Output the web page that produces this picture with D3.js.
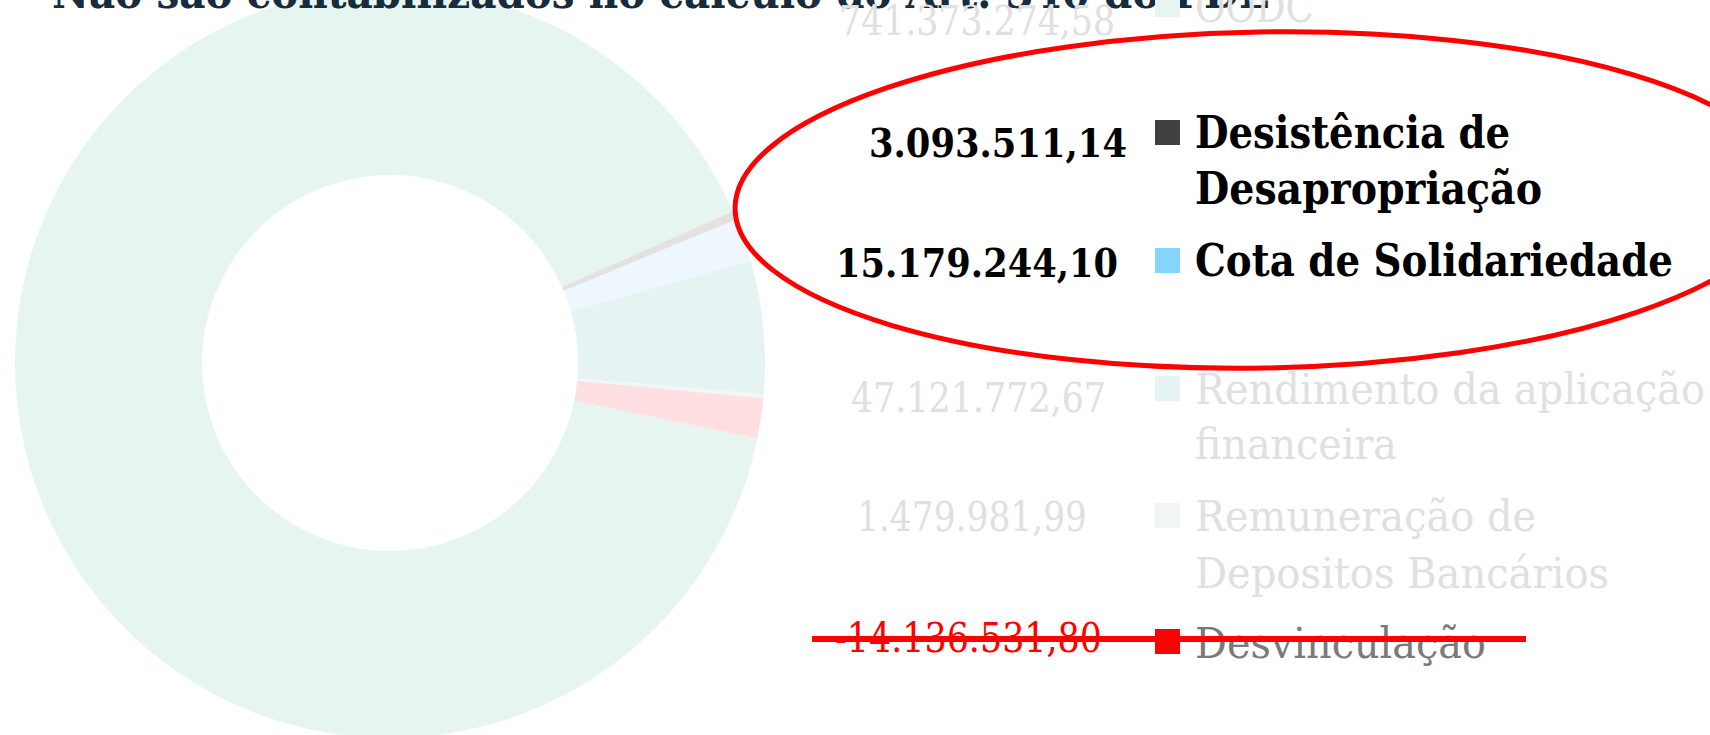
<!DOCTYPE html>
<html>
<head>
<meta charset="utf-8">
<script src="https://cdn.jsdelivr.net/npm/d3@7"></script>
<style>
  html, body { margin: 0; padding: 0; background: #fff; overflow: hidden; }
  svg { display: block; }
</style>
</head>
<body>
<div id="chart"></div>
<script>
// data
const categories = ["OODC", "Desistência de Desapropriação", "Cota de Solidariedade",
  "Rendimento da aplicação financeira", "Remuneração de Depositos Bancários", "Desvinculação"];
const values = [741373274.58, 3093511.14, 15179244.10, 47121772.67, 1479981.99, -14136531.80];
const labelLines = [
  ["OODC"],
  ["Desistência de", "Desapropriação"],
  ["Cota de Solidariedade"],
  ["Rendimento da aplicação", "financeira"],
  ["Remuneração de", "Depositos Bancários"],
  ["Desvinculação"]
];
const highlighted = [false, true, true, false, false, false];
const struck = [false, false, false, false, false, true];
const title = "Não são contabilizados no cálculo do Art. 340 do PDE";

// colours (faded slices, legend swatches)
const sliceColors = ["#e6f5ef", "#e3e1e1", "#eef7fd", "#e5f3f3", "#f1f6f6", "#ffdfe1"];
const swatchColors = ["#e6f5ef", "#404040", "#87d4fa", "#e5f3f3", "#f2f5f5", "#ff0000"];

const width = 1710, height = 735;
const cx = 390, cy = 363, outerR = 375, innerR = 188;

// layout of each legend row: number box, swatch, label baselines + widths
const rows = [
  { nx: 839, nw: 276, ny: 35,  sy: -8,  ly: [22],       lw: [119] },
  { nx: 869, nw: 258, ny: 157, sy: 120, ly: [148, 204], lw: [315, 347] },
  { nx: 836, nw: 282, ny: 277, sy: 248, ly: [276],      lw: [478] },
  { nx: 851, nw: 255, ny: 412, sy: 376, ly: [404, 459], lw: [510, 202] },
  { nx: 857, nw: 230, ny: 531, sy: 503, ly: [531, 588], lw: [341, 414] },
  { nx: 835, nw: 267, ny: 652, sy: 629, ly: [658],      lw: [291] }
];

const ptBR = d3.formatLocale({ decimal: ",", thousands: ".", grouping: [3], currency: ["R$", ""], minus: "-" });
const fmt = ptBR.format(",.2f");

const svg = d3.select("#chart").append("svg")
  .attr("width", width)
  .attr("height", height);

// donut
const pie = d3.pie()
  .sort(null)
  .value(d => Math.abs(d))
  .startAngle(101.6 * Math.PI / 180)
  .endAngle(101.6 * Math.PI / 180 + 2 * Math.PI);

const arc = d3.arc().innerRadius(innerR).outerRadius(outerR);

svg.append("g")
  .attr("transform", "translate(" + cx + "," + cy + ")")
  .selectAll("path")
  .data(pie(values))
  .enter()
  .append("path")
  .attr("d", arc)
  .attr("fill", (d, i) => sliceColors[i]);

// title (mostly cut off at the top)
svg.append("text")
  .attr("x", 52)
  .attr("y", 8)
  .attr("textLength", 1218)
  .attr("lengthAdjust", "spacingAndGlyphs")
  .style("font-family", "'DejaVu Serif', serif")
  .style("font-weight", "bold")
  .style("font-size", "44px")
  .style("fill", "#172c3e")
  .text(title);

// legend
const legend = svg.append("g");

categories.forEach((c, i) => {
  const r = rows[i];
  const hi = highlighted[i];
  const numColor = hi ? "#000" : (struck[i] ? "#ff0000" : "#e0e0e0");
  const labColor = hi ? "#000" : (struck[i] ? "#7a7a7a" : "#e0e0e0");

  legend.append("text")
    .attr("x", r.nx)
    .attr("y", r.ny)
    .attr("textLength", r.nw)
    .attr("lengthAdjust", "spacingAndGlyphs")
    .style("font-family", "'DejaVu Serif', serif")
    .style("font-weight", hi ? "bold" : "normal")
    .style("font-size", hi ? "39px" : "41px")
    .style("fill", numColor)
    .text(fmt(values[i]));

  legend.append("rect")
    .attr("x", 1155)
    .attr("y", r.sy)
    .attr("width", 25)
    .attr("height", 25)
    .attr("fill", swatchColors[i]);

  labelLines[i].forEach((line, j) => {
    legend.append("text")
      .attr("x", 1195)
      .attr("y", r.ly[j])
      .attr("textLength", r.lw[j])
      .attr("lengthAdjust", "spacingAndGlyphs")
      .style("font-family", "'DejaVu Serif', serif")
      .style("font-weight", hi ? "bold" : "normal")
      .style("font-size", hi ? "44px" : "42px")
      .style("fill", labColor)
      .text(line);
  });
});

// red strike-through over Desvinculação
svg.append("line")
  .attr("x1", 812)
  .attr("x2", 1526)
  .attr("y1", 639)
  .attr("y2", 639)
  .attr("stroke", "#ff0000")
  .attr("stroke-width", 6);

// red ellipse round the highlighted items
svg.append("ellipse")
  .attr("cx", 1262)
  .attr("cy", 200)
  .attr("rx", 527)
  .attr("ry", 168)
  .attr("transform", "rotate(-1,1262,200)")
  .attr("fill", "none")
  .attr("stroke", "#ff0000")
  .attr("stroke-width", 5);
</script>
</body>
</html>
